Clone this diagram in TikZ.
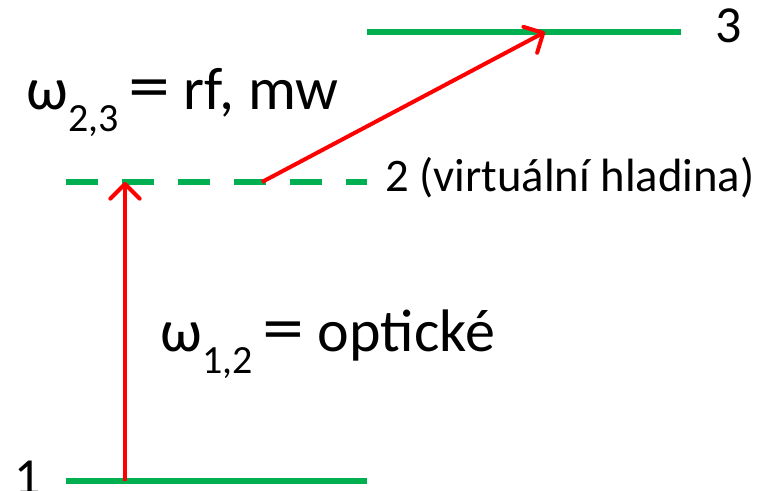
\documentclass[tikz,border=0pt]{standalone}
\usepackage{fontspec}
\setmainfont{Carlito}
\usepackage{graphicx}
\usepackage{tikz}
\usetikzlibrary{arrows.meta}

\definecolor{lvlgreen}{HTML}{00B050}
\definecolor{trred}{HTML}{FF0000}
\newcommand{\lvlsub}[1]{\raisebox{-16.5pt}{\fontsize{30}{34}\selectfont #1}}
\newcommand{\lvleq}{\scalebox{1.4}[1.15]{=}}

\begin{document}
\begin{tikzpicture}[
    x=0.75pt, y=-0.75pt,
    every node/.style={inner sep=0pt, anchor=base west},
    lvl/.style={draw=lvlgreen, line width=4.5pt},
    vlvl/.style={lvl, dash pattern=on 24pt off 18pt},
    tr/.style={draw=trred, line width=3pt,
               -{Straight Barb[length=11pt, width=22pt, line width=3pt, round]}},
    big/.style={font=\fontsize{45}{50}\selectfont},
    num/.style={font=\fontsize{39}{44}\selectfont},
    small/.style={font=\fontsize{35}{40}\selectfont},
  ]
  \useasboundingbox (0,0) rectangle (761,491);
  % energy levels
  \coordinate (l1a) at (66,481);
  \coordinate (l1b) at (367,481);
  \coordinate (l2a) at (66,182);
  \coordinate (l2b) at (367,182);
  \coordinate (l3a) at (367,32);
  \coordinate (l3b) at (681,32);
  \draw[lvl] (l1a) -- (l1b);
  \draw[vlvl] (l2a) -- (l2b);
  \draw[lvl] (l3a) -- (l3b);
  % transitions
  \coordinate (up0) at (125,481);
  \coordinate (up1) at (125,182);
  \coordinate (dg0) at (262,182);
  \coordinate (dg1) at (545,32);
  \draw[tr] (up0) -- (up1);
  \draw[tr] (dg0) -- (dg1);
  % labels
  \node[num] (n1) at (14,495) {1};
  \node[small] (n2) at (385,192) {2 (virtuální hladina)};
  \node[num] (n3) at (715,43) {3};
  \node[big] (w23) at (26,110) {ω\lvlsub{2,3}\,\lvleq\ rf, mw};
  \node[big] (w12) at (160,352) {ω\lvlsub{1,2}\,\lvleq\ optické};
\end{tikzpicture}
\end{document}
